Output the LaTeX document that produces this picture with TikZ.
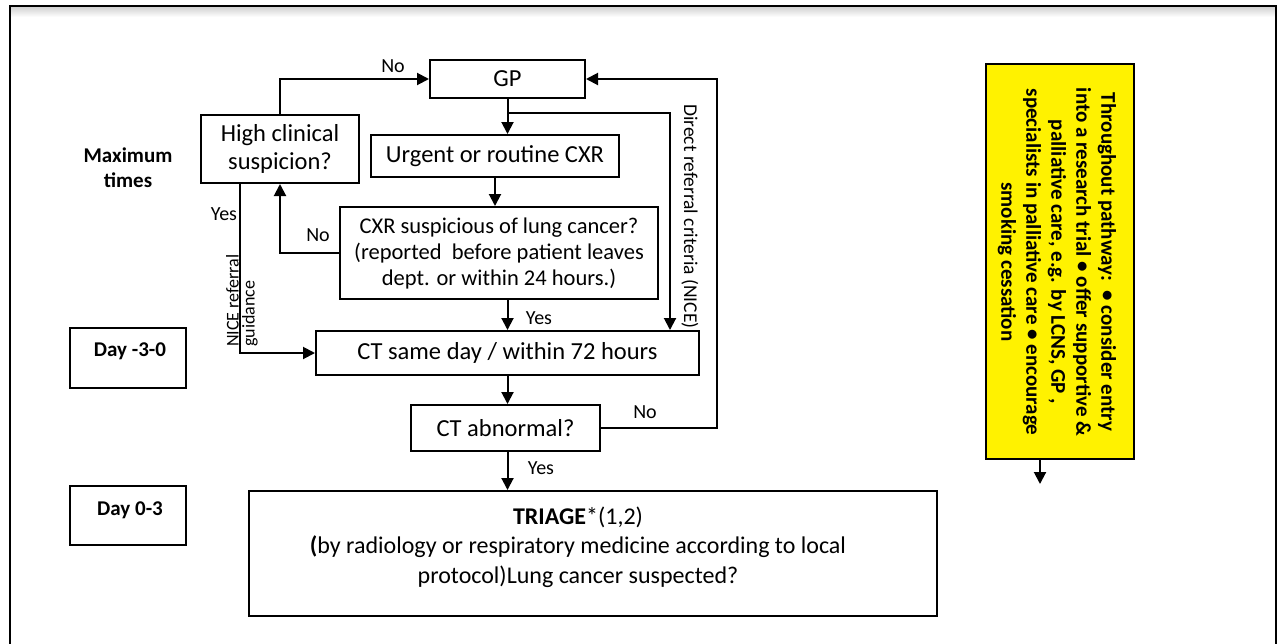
\documentclass[tikz,border=0pt]{standalone}
\usepackage{fontspec}
\setmainfont{Carlito}
\usetikzlibrary{arrows.meta,calc}
\begin{document}
\begin{tikzpicture}[x=1pt,y=-1pt,
  box/.style={draw, line width=2pt, inner sep=0pt, align=center, font=\fontsize{24.5}{27}\selectfont},
  lbl/.style={font=\fontsize{20}{22}\selectfont, inner sep=0pt},
  daylbl/.style={font=\bfseries\fontsize{21}{25}\selectfont, inner sep=0pt, align=center},
  arr/.style={line width=2pt, -{Triangle[length=12pt,width=12pt]}},
  ln/.style={line width=2pt},
]
\useasboundingbox (0,0) rectangle (1277,643);
% outer frame
\shade[top color=gray!35, bottom color=white] (11,7) rectangle (1275,17);
\draw[line width=2.5pt] (10,650) -- (10,6) -- (1276,6) -- (1276,650);

% nodes
\node[box, minimum width=155pt, minimum height=38pt] (gp) at (507.5,79) {GP};
\node[box, minimum width=158pt, minimum height=68pt, font=\fontsize{24.5}{28}\selectfont] (hcs) at (280,149) {High clinical\\suspicion?};
\node[box, minimum width=248pt, minimum height=42pt] (cxr) at (495,156) {Urgent or routine CXR};
\node[box, minimum width=318pt, minimum height=92pt, font=\fontsize{22.5}{26}\selectfont] (sus) at (499,253) {CXR suspicious of lung cancer?\\(reported\ \ before patient leaves\\dept. or within 24 hours.)};
\node[box, minimum width=383pt, minimum height=44pt] (ct) at (507.5,353) {CT same day / within 72 hours};
\node[box, minimum width=189pt, minimum height=46pt] (abn) at (505.5,428) {CT abnormal?};
\node[box, minimum width=688pt, minimum height=125pt] (tri) at (593,553.5) {};
\node[box, draw=none, font=\fontsize{24}{29.5}\selectfont] (tritext) at (578,547) {\textbf{TRIAGE}*(1,2)\\\textbf{(}by radiology or respiratory medicine according to local\\protocol)Lung cancer suspected?};

\node[daylbl] (maxt) at (128,168) {Maximum\\times};
\node[box, minimum width=116pt, minimum height=60pt] (day1) at (128,358) {};
\node[daylbl] (day1t) at (130,351) {Day -3-0};
\node[box, minimum width=116pt, minimum height=59pt] (day2) at (128,515.5) {};
\node[daylbl] (day2t) at (130,510) {Day 0-3};

\node[box, fill=yellow, minimum width=148pt, minimum height=395pt] (yel) at (1060,261.5) {};
\node[daylbl, rotate=-90, font=\bfseries\fontsize{21}{25}\selectfont] (yelt) at (1057,262) {Throughout pathway:\ \ \textbullet\ consider entry\\into a research trial \textbullet\ offer supportive \&\\palliative care, e.g. by LCNS, GP ,\\specialists in palliative care \textbullet\ encourage\\smoking cessation};

% connectors
\draw[arr] (gp.south) -- (cxr.north -| gp.south);
\coordinate (dr1) at ($(gp.south)+(0,14)$);
\coordinate (dr2) at ($(ct.north east)+(-30,0)$);
\draw[arr] (dr1) -| (dr2);
\node[lbl, rotate=-90, anchor=west, font=\fontsize{19.5}{21}\selectfont] (drl) at (690,104) {Direct referral criteria (NICE)};

\draw[arr] (abn.east) -- ++(116,0) coordinate (lp) |- (gp.east);
\node[lbl] (no3) at (645,412) {No};

\draw[arr] (cxr.south) -- (sus.north -| cxr.south);
\draw[arr] (sus.west) -| (hcs.south);
\node[lbl] (no2) at (318,235) {No};

\draw[arr] (hcs.north) |- (gp.west);
\node[lbl] (no1) at (393,66) {No};

\coordinate (hy) at ($(hcs.south)+(-40,0)$);
\draw[arr] (hy) |- (ct.west);
\node[lbl] (yes1) at (224,214) {Yes};
\node[lbl, rotate=90, anchor=north west, align=left, font=\fontsize{18}{16}\selectfont] (nice) at (226,347) {NICE referral\\guidance};

\draw[arr] (sus.south -| gp.south) -- (ct.north -| gp.south);
\node[lbl] (yes2) at (539,318) {Yes};
\draw[arr] (ct.south -| gp.south) -- (abn.north -| gp.south);
\draw[arr] (abn.south -| gp.south) -- (tri.north -| gp.south);
\node[lbl] (yes3) at (541,468) {Yes};

\coordinate (ya) at ($(yel.south)+(-20,0)$);
\draw[arr] (ya) -- ++(0,24);
\end{tikzpicture}
\end{document}
